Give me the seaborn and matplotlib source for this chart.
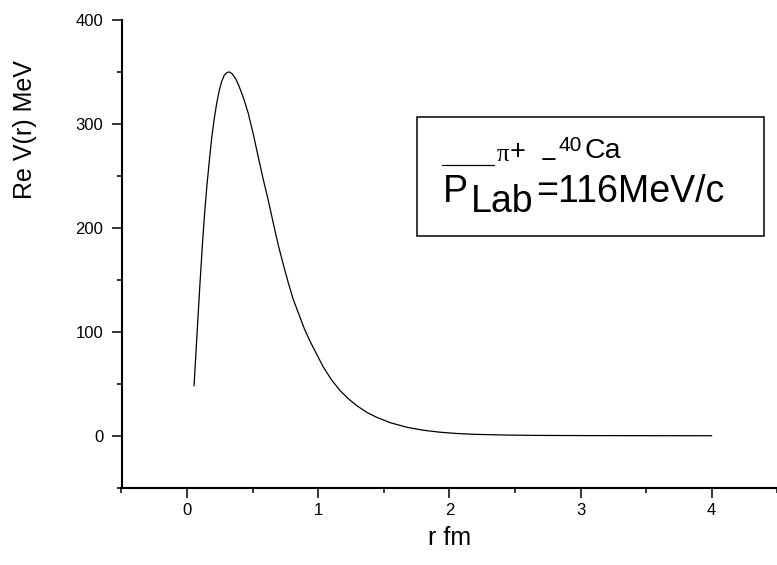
import matplotlib
matplotlib.use("Agg")
import matplotlib.pyplot as plt
import numpy as np
import pandas as pd
import seaborn as sns
from matplotlib.ticker import FixedLocator, MultipleLocator
from matplotlib.lines import Line2D
from matplotlib.offsetbox import TextArea, HPacker, VPacker, DrawingArea

# ---- data ----
r_fm = [0.053, 0.070, 0.086, 0.100, 0.117, 0.133, 0.150, 0.170, 0.188, 0.207,
        0.226, 0.245, 0.264, 0.284, 0.304, 0.323, 0.345, 0.368, 0.391, 0.430,
        0.467, 0.505, 0.543, 0.580, 0.620, 0.660, 0.696, 0.735, 0.772, 0.810,
        0.852, 0.894, 0.937, 0.990, 1.039, 1.100, 1.166, 1.230, 1.293, 1.370,
        1.446, 1.550, 1.674, 1.800, 1.928, 2.050, 2.180, 2.450, 2.690, 3.000,
        3.500, 4.000]
re_v = [48, 85, 120, 150, 184, 213, 239, 265, 287, 305,
        320, 332, 341, 347, 349.5, 350, 348, 344, 338, 325,
        310, 290, 268, 247, 226, 203, 183, 164, 147, 131,
        117, 103, 91, 78, 66, 54, 43.5, 35.5, 29, 22.5,
        17.7, 12.5, 8.2, 5.3, 3.4, 2.2, 1.4, 0.6, 0.3, 0.15,
        0.05, 0.0]

x_ticks = [0, 1, 2, 3, 4]
y_ticks = [0, 100, 200, 300, 400]
x_label = "r fm"
y_label = "Re V(r) MeV"
# legend row 1: π⁺ − ⁴⁰Ca  (pieces), row 2: P_Lab=116MeV/c
row1_parts = ["π", "+", "−", "40", "Ca"]
plab_parts = ["P", "Lab", "=116MeV/c"]

# ---- style ----
sns.set_theme(style="ticks")
plt.rcParams["font.family"] = ["Liberation Sans", "DejaVu Sans"]
for k in ["axes.edgecolor", "xtick.color", "ytick.color", "text.color", "axes.labelcolor"]:
    plt.rcParams[k] = "black"

W, H = 777, 565
fig = plt.figure(figsize=(W / 100, H / 100), dpi=100)
ax = fig.add_axes([121.5 / W, 1 - 487.7 / H, (777.3 - 121.5) / W, (487.7 - 20) / H])

df = pd.DataFrame({"r": r_fm, "V": re_v})
sns.lineplot(data=df, x="r", y="V", ax=ax, color="black", linewidth=0.9,
             estimator=None, legend=False)

ax.set_xlim(-0.5, 4.5)
ax.set_ylim(-50, 400)
ax.xaxis.set_major_locator(FixedLocator(x_ticks))
ax.yaxis.set_major_locator(FixedLocator(y_ticks))
ax.xaxis.set_minor_locator(MultipleLocator(0.5))
ax.yaxis.set_minor_locator(MultipleLocator(50))

for s in ["top", "right"]:
    ax.spines[s].set_visible(False)
for s in ["left", "bottom"]:
    ax.spines[s].set_linewidth(1.5)
    ax.spines[s].set_color("black")

ax.tick_params(which="major", direction="out", length=7, width=1.1, labelsize=12)
ax.tick_params(which="minor", direction="out", length=3.8, width=1.1)
ax.tick_params(axis="y", which="major", pad=6)
ax.tick_params(axis="x", which="major", pad=4)

ax.set_xlabel(x_label, fontsize=18, labelpad=6)
ax.set_ylabel(y_label, fontsize=18)
ax.yaxis.set_label_coords(-0.129, 0.765)

# ---- legend box ----
line = ax.get_lines()[0]
dummy = Line2D([], [], color="none")
leg_fs = 19
leg = ax.legend(handles=[line, dummy], labels=[" ", " "],
                loc="upper left",
                bbox_to_anchor=(417 / W, 1 - 235 / H, (764 - 417) / W, (235 - 117) / H),
                bbox_transform=fig.transFigure, borderaxespad=0, mode="expand",
                frameon=True, fancybox=False, framealpha=1, edgecolor="black",
                fontsize=leg_fs, handlelength=2.0, handletextpad=0.1,
                borderpad=0.62, labelspacing=0.0)
leg.get_frame().set_linewidth(1.1)

sans = ["Liberation Sans", "DejaVu Sans"]


def piece(text, fs, top_pt, family=sans):
    ta = TextArea(text, textprops=dict(fontsize=fs, color="black", family=family))
    return VPacker(children=[DrawingArea(0, top_pt), ta], pad=0, sep=0, align="left")


def gap(w_pt):
    return DrawingArea(w_pt, 0)


row1 = HPacker(children=[
    piece(row1_parts[0], 18, 7.8, ["Liberation Serif", "DejaVu Serif"]),
    piece(row1_parts[1], 19.5, 4.0),
    gap(11),
    piece(row1_parts[2], 19.5, 10.5),
    gap(1),
    piece(row1_parts[3], 15, 2.0),
    gap(2),
    piece(row1_parts[4], 20.5, 3.5),
], pad=0, sep=0, align="top")

fs2 = 27
row2 = HPacker(children=[
    piece(plab_parts[0], fs2, 0.0),
    gap(2),
    piece(plab_parts[1], fs2, fs2 * 0.27),
    gap(2),
    piece(plab_parts[2], fs2, 0.0),
], pad=0, sep=0, align="top")

col = leg._legend_handle_box.get_children()[0]
item1, item2 = col.get_children()[:2]
k1 = item1.get_children()
handlebox = k1[0]
k1[:] = [gap(4), handlebox, row1]
k2 = item2.get_children()
k2[:] = [gap(5), row2]
for b in (row1, row2):
    b.set_figure(fig)
for b in k1 + k2:
    b.set_figure(fig)

fig.savefig("out.png", dpi=100)
